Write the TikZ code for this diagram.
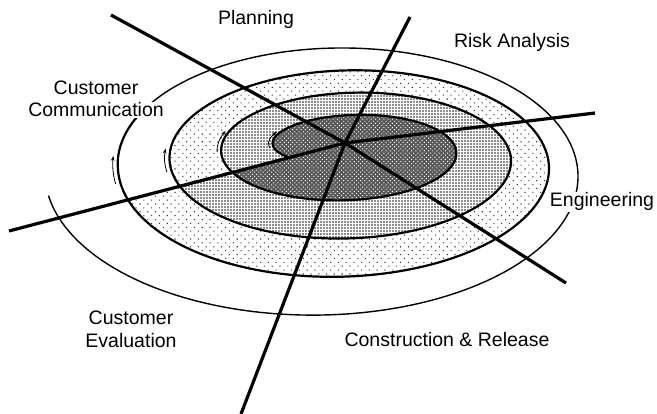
\documentclass[tikz,border=0pt]{standalone}
\usepackage{fontspec}
\setmainfont{Liberation Sans}
\usetikzlibrary{patterns.meta,arrows.meta}
\begin{document}
\begin{tikzpicture}[x=1pt,y=-1pt,
  declare function={
    SL(\x)=273-0.143528*(\x-180)-0.05925*max(\x-1260,0);
    ST(\x)=115-0.062028*(\x-270);
    SR(\x)=456+0.152778*(\x-360)-0.047222*max(\x-720,0)-0.025*max(\x-1080,0);
    SB(\x)=200+0.106472*(\x-450);
    SX(\x)=(SL(\x)+SR(\x))/2+(SR(\x)-SL(\x))/2*cos(mod(\x,360));
    SY(\x)=(ST(\x)+SB(\x))/2+(SB(\x)-ST(\x))/2*sin(mod(\x,360));
  },
  ring/.style={line width=2.2pt, line join=round},
  thinring/.style={line width=1.4pt},
  ray/.style={line width=3.2pt},
  arr/.style={line width=0.8pt, -{Stealth[length=5pt,width=3.6pt]}},
  lbl/.style={font=\fontsize{19.5}{23}\selectfont, anchor=base, fill=white, inner sep=1pt}
]
\useasboundingbox (0,0) rectangle (657,414);

% shaded bands of the spiral
\path[fill=white, postaction={pattern={Dots[angle=45,distance=5.5pt,radius=0.75pt]}, pattern color=black!80}]
  plot[domain=883:1245,samples=200] ({SX(\x)},{SY(\x)}) -- cycle;
\path[fill=white, postaction={pattern={Dots[distance=3pt,radius=0.8pt]}, pattern color=black!90}]
  plot[domain=520:883,samples=200] ({SX(\x)},{SY(\x)}) -- cycle;
\path[fill=black!65, postaction={pattern={Dots[angle=45,distance=3pt,radius=0.7pt]}, pattern color=white}]
  plot[domain=148:520,samples=200] ({SX(\x)},{SY(\x)}) -- cycle;

% spiral outline
\draw[ring] plot[domain=148:1290,samples=500] ({SX(\x)},{SY(\x)});
\draw[thinring] plot[domain=1290:1613,samples=150] ({SX(\x)},{SY(\x)});

% direction arrows
\draw[arr] plot[domain=1253:1267,samples=10] ({SX(\x)-5},{SY(\x)});
\draw[arr] plot[domain=893:909,samples=10] ({SX(\x)-5},{SY(\x)});
\draw[arr] plot[domain=542:564,samples=10] ({SX(\x)-4},{SY(\x)});
\draw[arr] plot[domain=175:212,samples=12] ({SX(\x)-4},{SY(\x)});

% sector rays
\coordinate (O) at (345,143);
\coordinate (rUL) at (111,15);
\coordinate (rU) at (410,17);
\coordinate (rR) at (595,113);
\coordinate (rDR) at (566,283);
\coordinate (rD) at (241,414);
\coordinate (rL) at (9,231);
\draw[ray] (O) -- (rUL);
\draw[ray] (O) -- (rU);
\draw[ray] (O) -- (rR);
\draw[ray] (O) -- (rDR);
\draw[ray] (O) -- (rD);
\draw[ray] (O) -- (rL);

% labels
\node[lbl] (plan) at (256,25) {Planning};
\node[lbl] (risk) at (512,48) {Risk Analysis};
\node[lbl] (cc1) at (96,95) {Customer};
\node[lbl] (cc2) at (96,117) {Communication};
\node[lbl] (eng) at (602,207) {Engineering};
\node[lbl] (ce1) at (131,325) {Customer};
\node[lbl] (ce2) at (131,348) {Evaluation};
\node[lbl] (cr) at (447,347) {Construction \& Release};
\end{tikzpicture}
\end{document}
